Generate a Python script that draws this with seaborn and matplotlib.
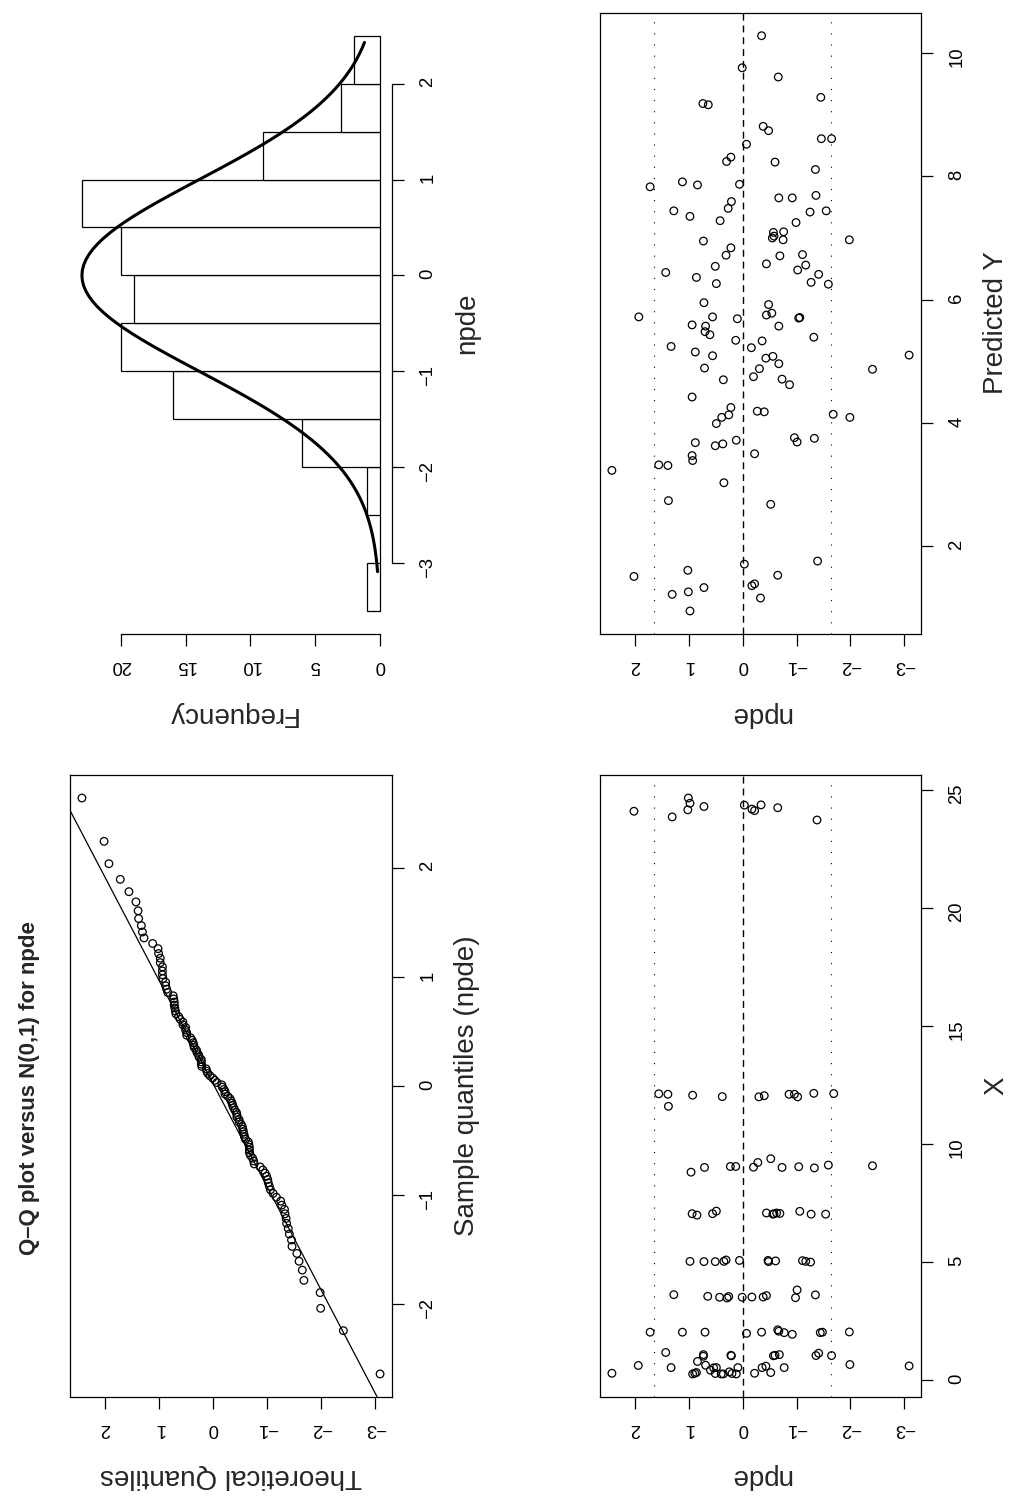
import numpy as np
import pandas as pd
import seaborn as sns
import matplotlib
matplotlib.use("Agg")
import matplotlib.pyplot as plt
from statistics import NormalDist

# npde versus predicted Y (also used for the histogram and the Q-Q plot)
pred_y = [10.28, 9.76, 9.61, 9.28, 9.18, 9.16, 8.81, 8.74, 8.61, 8.61, 8.52, 8.31, 8.24, 8.23, 8.11,
          7.83, 7.91, 7.86, 7.87, 7.65, 7.65, 7.69, 7.59, 7.48, 7.44, 7.35, 7.28, 7.42, 7.44, 7.25,
          7.09, 7.10, 7.00, 6.97, 6.95, 6.97, 6.84, 6.72, 6.71, 6.73, 6.54, 6.58, 6.56, 6.48, 6.44,
          6.36, 6.41, 6.26, 6.28, 6.25, 5.95, 5.92, 5.72, 5.72, 5.69, 5.75, 5.78, 5.70, 5.71, 7.03,
          5.59, 5.57, 5.57, 5.48, 5.43, 5.39, 5.24, 5.34, 5.33, 5.22, 5.15, 5.09, 5.05, 5.08, 5.10,
          4.89, 4.88, 4.96, 4.87, 4.75, 4.70, 4.71, 4.62, 4.42, 4.25, 4.13, 4.09, 3.99, 4.19, 4.18,
          4.14, 4.09, 3.68, 3.63, 3.66, 3.72, 3.76, 3.69, 3.75, 3.47, 3.39, 3.50, 3.32, 3.31, 3.23,
          3.03, 2.74, 2.68, 1.71, 1.76, 1.51, 1.61, 1.53, 1.33, 1.22, 1.26, 1.36, 1.39, 1.16, 0.95]
npde_pred = [-0.35, 0.01, -0.66, -1.45, 0.74, 0.64, -0.38, -0.48, -1.46, -1.65, -0.07, 0.22, 0.30, -0.60, -1.35,
             1.72, 1.12, 0.84, 0.06, -0.67, -0.92, -1.36, 0.21, 0.27, 1.28, 0.98, 0.42, -1.25, -1.55, -0.99,
             -0.57, -0.76, -0.55, -0.75, 0.73, -1.98, 0.22, 0.31, -0.69, -1.11, 0.51, -0.44, -1.17, -1.02, 1.43,
             0.86, -1.41, 0.49, -1.27, -1.59, 0.72, -0.48, 1.93, 0.56, 0.10, -0.44, -0.54, -1.04, -1.06, -0.58,
             0.94, 0.69, -0.67, 0.70, 0.61, -1.32, 1.33, 0.13, -0.36, -0.16, 0.88, 0.56, -0.43, -0.56, -3.09,
             0.71, -0.31, -0.67, -2.41, -0.20, 0.36, -0.73, -0.87, 0.94, 0.22, 0.26, 0.39, 0.49, -0.27, -0.40,
             -1.68, -1.99, 0.88, 0.51, 0.37, 0.12, -0.96, -1.01, -1.33, 0.94, 0.93, -0.22, 1.56, 1.39, 2.43,
             0.35, 1.38, -0.52, -0.03, -1.39, 2.02, 1.02, -0.65, 0.72, 1.31, 1.01, -0.17, -0.22, -0.33, 0.98]

# npde versus X (time)
time_x = [12.12, 12.10, 11.59, 12.06, 12.00, 11.99, 12.04, 12.10, 12.10, 11.99, 12.14, 12.13,
          8.80, 9.00, 9.04, 9.04, 9.01, 9.21, 9.37, 9.00, 9.03, 8.98, 9.10, 9.07,
          7.04, 6.98, 7.04, 7.15, 7.07, 7.02, 7.04, 7.07, 7.05, 7.14, 7.02, 7.02,
          5.02, 5.01, 5.01, 5.02, 5.08, 5.06, 5.06, 5.01, 5.04, 5.05, 5.02, 4.99,
          3.61, 3.54, 3.50, 3.47, 3.53, 3.50, 3.51, 3.51, 3.57, 3.81, 3.48, 3.60,
          2.02, 2.02, 2.02, 1.97, 2.02, 2.12, 2.06, 2.00, 1.93, 2.00, 2.02, 2.03,
          1.16, 1.07, 1.00, 1.04, 1.02, 1.02, 1.04, 1.07, 1.03, 1.13, 1.03,
          0.61, 0.52, 0.78, 0.62, 0.41, 0.51, 0.52, 0.52, 0.52, 0.58, 0.52, 0.65, 0.59,
          0.28, 0.25, 0.28, 0.31, 0.27, 0.25, 0.25, 0.34, 0.25, 0.28, 0.31, 0.27,
          24.09, 23.85, 24.15, 24.65, 24.43, 24.29, 24.35, 24.18, 24.12, 24.36, 24.24, 23.72]
npde_time = [1.56, 1.39, 1.38, 0.93, 0.38, -0.30, -0.40, -0.86, -0.96, -1.02, -1.32, -1.69,
             0.96, 0.71, 0.23, 0.13, -0.20, -0.28, -0.52, -0.73, -1.04, -1.33, -1.59, -2.41,
             0.94, 0.85, 0.56, 0.49, -0.44, -0.56, -0.58, -0.63, -0.69, -1.06, -1.27, -1.54,
             0.98, 0.72, 0.51, 0.35, 0.31, 0.06, -0.47, -0.48, -0.61, -1.11, -1.17, -1.26,
             1.28, 0.65, 0.43, 0.29, 0.26, 0.01, -0.17, -0.38, -0.44, -1.01, -0.98, -1.35,
             1.72, 1.12, 0.70, -0.07, -0.35, -0.65, -0.67, -0.77, -0.92, -1.44, -1.48, -1.98,
             1.43, 0.73, 0.73, 0.22, 0.21, -0.57, -0.60, -0.68, -1.36, -1.41, -1.65,
             1.94, 1.33, 0.84, 0.69, 0.60, 0.54, 0.49, 0.09, -0.36, -0.43, -0.77, -1.99, -3.09,
             2.43, 0.93, 0.89, 0.86, 0.51, 0.40, 0.36, 0.25, 0.12, -0.22, -0.52, 0.20,
             2.02, 1.31, 1.02, 1.01, 0.98, 0.72, -0.03, -0.17, -0.22, -0.34, -0.65, -1.38]

hist_breaks = np.arange(-3.5, 2.51, 0.5)
npde_ticks = [-3, -2, -1, 0, 1, 2]

W, H = 1017, 1506
sns.set_style("white")
plt.rcParams['font.family'] = ['Liberation Sans', 'DejaVu Sans']

fig = plt.figure(figsize=(W / 100, H / 100), dpi=100)
nd = NormalDist()


def add_panel(x0, y0, x1, y1):
    return fig.add_axes([x0 / W, 1 - y1 / H, (x1 - x0) / W, (y1 - y0) / H])


def r_lim(v):
    lo, hi = min(v), max(v)
    pad = 0.04 * (hi - lo)
    return lo - pad, hi + pad


def style(ax, box=True):
    for s in ax.spines.values():
        s.set_color('black')
        s.set_linewidth(0.9)
        s.set_visible(box)
    ax.xaxis.set_ticks_position('bottom')
    ax.yaxis.set_ticks_position('right')
    tk = dict(direction='out', length=8.3, width=0.9, colors='black', labelsize=13.3)
    ax.tick_params(axis='x', labelrotation=180, pad=8.6, **tk)
    ax.tick_params(axis='y', labelrotation=90, pad=11.5, **tk)
    ax.set_xlabel('')
    ax.set_ylabel('')


def label(x, y, s, rot, size=20, **kw):
    fig.text(x / W, 1 - y / H, s, rotation=rot, ha='center', va='center', fontsize=size, **kw)


pts = dict(marker='o', s=30, facecolor='none', edgecolor='black', linewidth=0.9)
ref0 = dict(color='black', lw=1.0, dashes=(5, 3.5))
ref1 = dict(color='black', lw=0.8, dashes=(1, 9))
lim95 = nd.inv_cdf(0.95)

# Q-Q plot
ax = add_panel(70, 775, 392, 1397)
sample = np.sort(npde_pred)
n = len(sample)
theo = np.array([nd.inv_cdf((i - 0.5) / n) for i in range(1, n + 1)])
sns.scatterplot(x=sample, y=theo, ax=ax, **pts)
q1, q3 = np.quantile(npde_pred, [0.25, 0.75])
z1, z3 = nd.inv_cdf(0.25), nd.inv_cdf(0.75)
slope = (q3 - q1) / (z3 - z1)
tt = np.array([-4.0, 4.0])
ax.plot(q1 + slope * (tt - z1), tt, color='black', lw=0.9)
lo, hi = r_lim(sample)
ax.set_xlim(hi, lo)
ax.set_ylim(*r_lim(theo))
ax.set_xticks(npde_ticks)
ax.set_yticks([-2, -1, 0, 1, 2])
style(ax)
label(30, 1088, 'Q\u2013Q plot versus N(0,1) for npde', 90, size=16, fontweight='bold')
label(467, 1086, 'Sample quantiles (npde)', 90)
label(231, 1476, 'Theoretical Quantiles', 180)

# histogram
ax = add_panel(70, 12.7, 392, 634)
sns.histplot(y=npde_pred, bins=hist_breaks, ax=ax, color='white', edgecolor='black',
             linewidth=0.9, alpha=1)
counts, _ = np.histogram(npde_pred, hist_breaks)
cmax = counts.max()
xs = np.linspace(min(npde_pred), max(npde_pred), 101)
dens = np.array([nd.pdf(v) for v in xs])
ax.plot(dens / dens.max() * cmax, xs, color='black', lw=2.2)
ax.set_xlim(cmax * 1.04, -cmax * 0.04)
span = hist_breaks[-1] - hist_breaks[0]
ax.set_ylim(hist_breaks[0] - 0.04 * span, hist_breaks[-1] + 0.04 * span)
ax.set_xticks([0, 5, 10, 15, 20])
ax.set_yticks(npde_ticks)
style(ax, box=False)
ax.spines['bottom'].set_visible(True)
ax.spines['bottom'].set_bounds(0, 20)
ax.spines['right'].set_visible(True)
ax.spines['right'].set_bounds(-3, 2)
label(467, 323, 'npde', 90)
label(231, 714, 'Frequency', 180)

# npde vs predicted Y
ax = add_panel(600, 12.7, 921, 634)
sns.scatterplot(x=npde_pred, y=pred_y, ax=ax, **pts)
ax.axvline(0, **ref0)
ax.axvline(lim95, **ref1)
ax.axvline(-lim95, **ref1)
lo, hi = r_lim(npde_pred)
ax.set_xlim(hi, lo)
ax.set_ylim(*r_lim(pred_y))
ax.set_xticks(npde_ticks)
ax.set_yticks([2, 4, 6, 8, 10])
style(ax)
label(996, 323, 'Predicted Y', 90)
label(760, 714, 'npde', 180)

# npde vs X
ax = add_panel(600, 775, 921, 1397)
sns.scatterplot(x=npde_time, y=time_x, ax=ax, **pts)
ax.axvline(0, **ref0)
ax.axvline(lim95, **ref1)
ax.axvline(-lim95, **ref1)
lo, hi = r_lim(npde_time)
ax.set_xlim(hi, lo)
ax.set_ylim(*r_lim(time_x))
ax.set_xticks(npde_ticks)
ax.set_yticks([0, 5, 10, 15, 20, 25])
style(ax)
label(996, 1086, 'X', 90)
label(760, 1476, 'npde', 180)

fig.savefig('out.png', dpi=100, facecolor='white')
